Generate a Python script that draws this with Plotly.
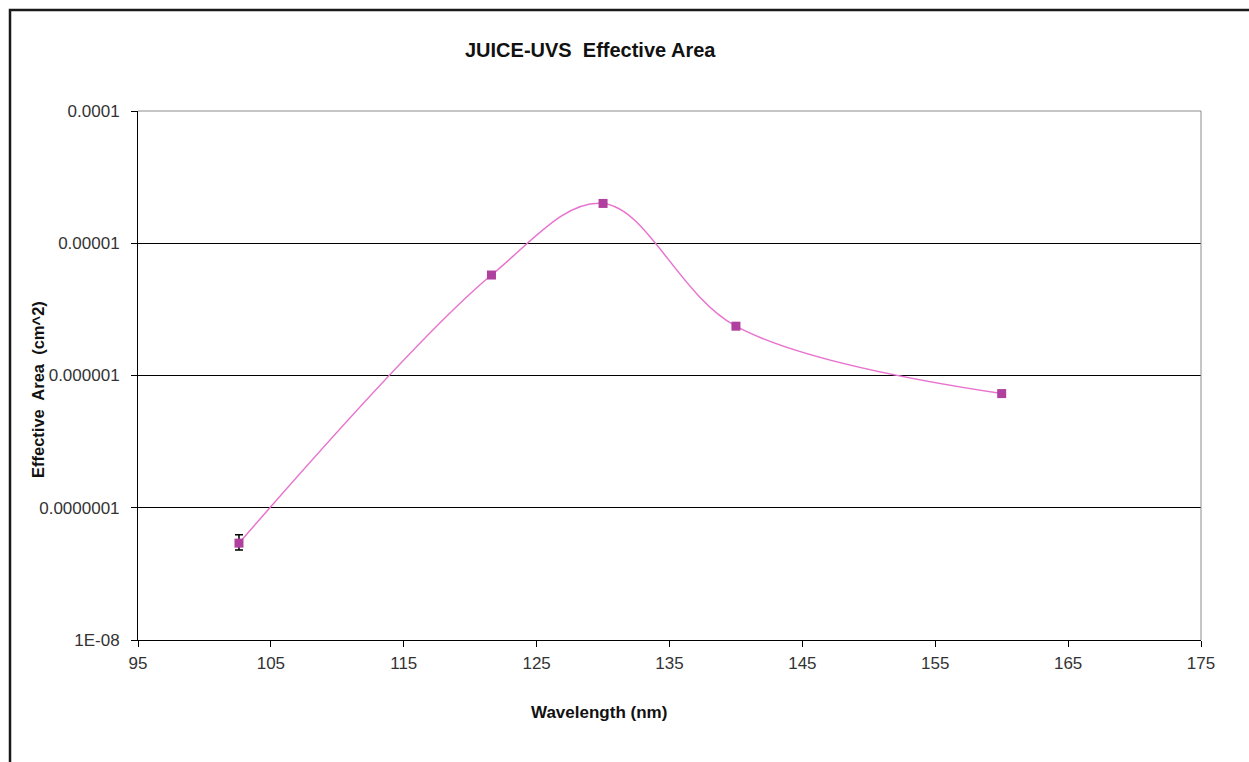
import plotly.graph_objects as go

wavelength = [102.6, 121.6, 130.0, 140.0, 160.0]
eff_area = [5.4e-8, 5.75e-6, 2.0e-5, 2.36e-6, 7.3e-7]
err_plus = [0.85e-8, 0, 0, 0, 0]
err_minus = [0.6e-8, 0, 0, 0, 0]

x_ticks = [95, 105, 115, 125, 135, 145, 155, 165, 175]
y_ticks = [1e-8, 1e-7, 1e-6, 1e-5, 1e-4]
y_ticktext = ["1E-08", "0.0000001", "0.000001", "0.00001", "0.0001"]

W, H = 1249, 762
L, R, T, B = 138, 48, 111, 122
pw, ph = W - L - R, H - T - B

font = "Liberation Sans, Arial, sans-serif"


def px_x(x):
    return (x - L) / pw


def px_y(y):
    return (H - y - B) / ph


fig = go.Figure()
fig.add_trace(go.Scatter(
    x=wavelength, y=eff_area, mode="lines+markers",
    line=dict(color="#E873CF", width=1.5, shape="spline", smoothing=1.0),
    marker=dict(symbol="square", size=9, color="#B0409E", line=dict(width=0)),
    error_y=dict(type="data", array=err_plus, arrayminus=err_minus, visible=True,
                 color="black", thickness=1.5, width=4),
    showlegend=False,
))

fig.update_layout(
    width=W, height=H,
    margin=dict(l=L, r=R, t=T, b=B),
    paper_bgcolor="white", plot_bgcolor="white",
    font=dict(family=font, color="#222222"),
    xaxis=dict(range=[95, 175], tickvals=x_ticks, ticks="outside", ticklen=6,
               tickcolor="black", showline=True, linecolor="black", linewidth=1,
               showgrid=False, zeroline=False, tickfont=dict(size=17, color="#333"),
               ticklabelstandoff=2),
    yaxis=dict(type="log", range=[-8, -4], tickvals=y_ticks, ticktext=y_ticktext,
               ticks="outside", ticklen=6, tickcolor="black", showline=True,
               linecolor="black", linewidth=1, showgrid=True, gridcolor="black",
               gridwidth=1, zeroline=False, tickfont=dict(size=17, color="#333"),
               ticklabelstandoff=8),
    annotations=[
        dict(text="<b>JUICE-UVS  Effective Area</b>", x=px_x(590), y=px_y(50),
             xref="paper", yref="paper", showarrow=False, font=dict(size=20, color="#111"),
             xanchor="center", yanchor="middle"),
        dict(text="<b>Wavelength (nm)</b>", x=px_x(599), y=px_y(712),
             xref="paper", yref="paper", showarrow=False, font=dict(size=17, color="#111"),
             xanchor="center", yanchor="middle"),
        dict(text="<b>Effective  Area  (cm^2)</b>", x=px_x(38), y=px_y(390),
             xref="paper", yref="paper", showarrow=False, font=dict(size=16.5, color="#111"),
             textangle=-90, xanchor="center", yanchor="middle"),
    ],
)

# plot box (gray top/right) and outer frame
fig.add_shape(type="line", xref="paper", yref="paper", x0=0, x1=1, y0=1, y1=1,
              line=dict(color="#8c8c8c", width=1), layer="above")
fig.add_shape(type="line", xref="paper", yref="paper", x0=1, x1=1, y0=0, y1=1,
              line=dict(color="#8c8c8c", width=1), layer="above")
fig.add_shape(type="rect", xref="paper", yref="paper",
              x0=px_x(10), x1=px_x(W + 20),
              y0=px_y(H + 20), y1=px_y(10),
              line=dict(color="#1a1a1a", width=2.5), fillcolor="rgba(0,0,0,0)")

fig.write_html("out.html")
